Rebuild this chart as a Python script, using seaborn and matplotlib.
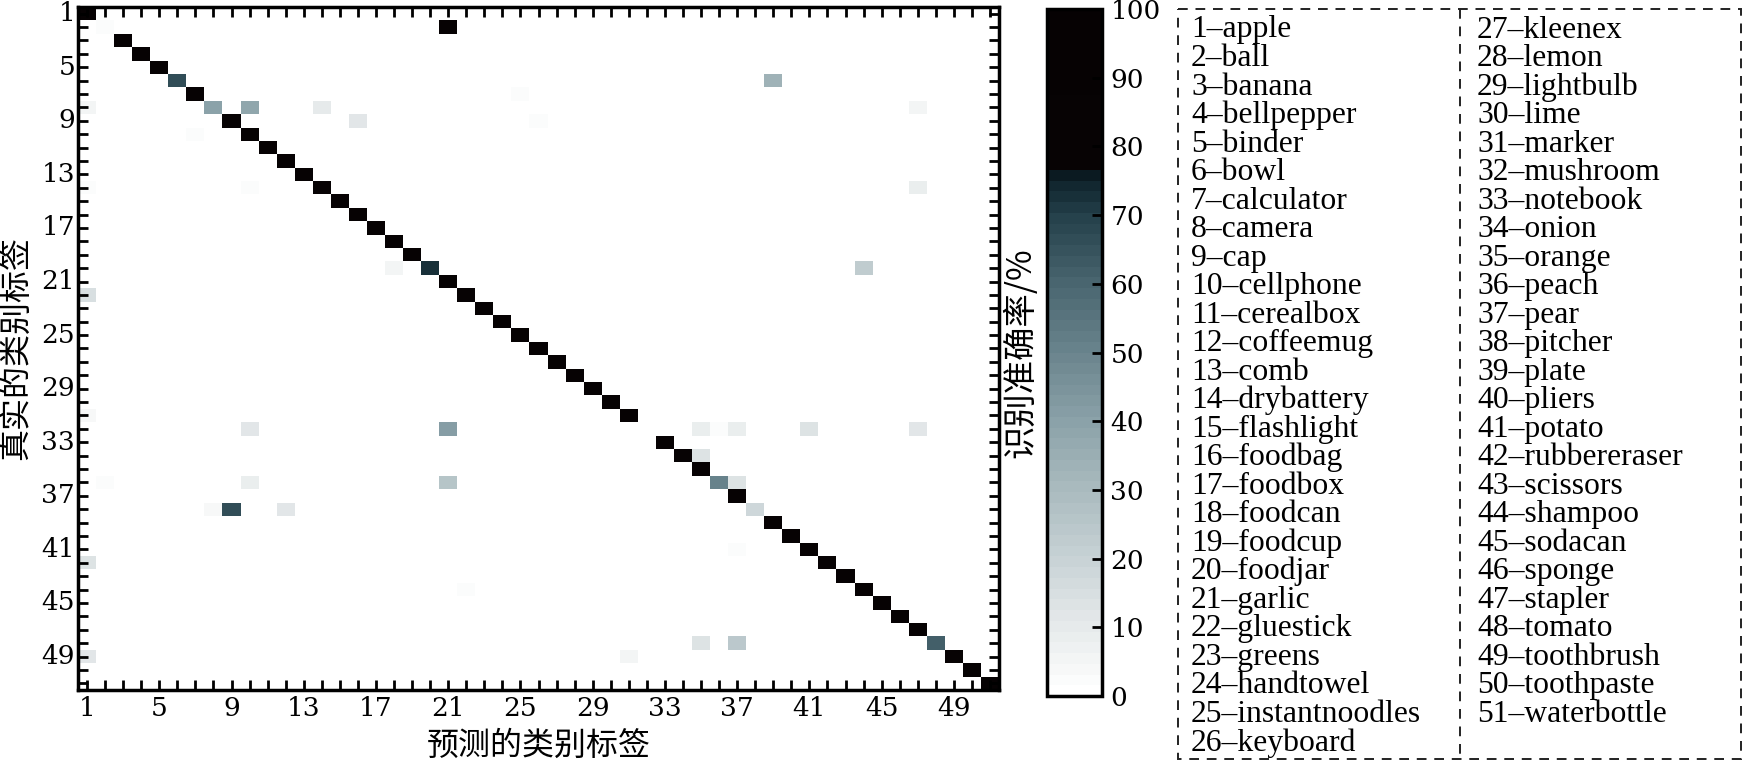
import numpy as np
import seaborn as sns
from matplotlib import pyplot as plt
from matplotlib.colors import LinearSegmentedColormap
from matplotlib.patches import Rectangle

class_names = ["apple", "ball", "banana", "bellpepper", "binder", "bowl", "calculator", "camera",
               "cap", "cellphone", "cerealbox", "coffeemug", "comb", "drybattery", "flashlight",
               "foodbag", "foodbox", "foodcan", "foodcup", "foodjar", "garlic", "gluestick", "greens",
               "handtowel", "instantnoodles", "keyboard", "kleenex", "lemon", "lightbulb", "lime",
               "marker", "mushroom", "notebook", "onion", "orange", "peach", "pear", "pitcher", "plate",
               "pliers", "potato", "rubbereraser", "scissors", "shampoo", "sodacan", "sponge", "stapler",
               "tomato", "toothbrush", "toothpaste", "waterbottle"]

# diagonal accuracy (%) per true class 1..51
diag_vals = [100, 3, 100, 100, 100, 66, 98, 40, 86, 97,
             100, 100, 100, 86, 100, 100, 100, 100, 100, 72,
             100, 85, 100, 100, 100, 100, 100, 100, 100, 100,
             96, 0, 100, 86, 100, 50, 100, 18, 100, 100,
             98, 86, 100, 98, 100, 100, 100, 62, 82, 100, 100]

# off-diagonal confusions: true row, predicted col, percent
off_rows = [2, 6, 7, 8, 8, 8, 8, 9, 9, 10, 14, 14, 14, 20, 20, 22, 31,
            32, 32, 32, 32, 32, 32, 32, 34, 36, 36, 36, 36, 36, 38, 38, 38,
            41, 42, 44, 48, 48, 49, 49]
off_cols = [21, 39, 25, 1, 10, 14, 47, 16, 26, 7, 1, 10, 47, 18, 44, 1, 1,
            10, 21, 35, 36, 37, 41, 47, 35, 2, 10, 21, 37, 41, 8, 9, 12,
            37, 1, 22, 35, 37, 1, 31]
off_vals = [97, 34, 2, 6, 38, 10, 6, 12, 2, 3, 2, 3, 9, 6, 22, 15, 4,
            12, 42, 9, 3, 9, 13, 12, 14, 3, 8, 25, 13, 1, 4, 66, 12,
            2, 14, 2, 14, 24, 12, 6]

cbar_ticks = list(range(0, 101, 10))

n = len(class_names)
conf = np.zeros((n, n))
conf[np.arange(n), np.arange(n)] = diag_vals
for r, c, v in zip(off_rows, off_cols, off_vals):
    conf[r - 1, c - 1] = v

cmap = LinearSegmentedColormap.from_list("acc", [
    (0.00, "#ffffff"), (0.10, "#e5e9ea"), (0.20, "#c6d1d4"), (0.30, "#a9babe"),
    (0.40, "#8aa1a8"), (0.50, "#6a848d"), (0.60, "#4a6670"), (0.70, "#25414b"),
    (0.76, "#0c1f28"), (0.77, "#070304"), (1.00, "#060203")], N=64)

plt.rcParams['font.family'] = ['DejaVu Serif', 'Noto Sans CJK SC']
cjk = ['Noto Sans CJK SC', 'DejaVu Sans']

W, H = 1745, 762
fig = plt.figure(figsize=(W / 100, H / 100), dpi=100)
ax = fig.add_axes([78 / W, 1 - 690 / H, 921 / W, 683 / H])
cax = fig.add_axes([1047 / W, 1 - 696 / H, 55 / W, 687 / H])

sns.heatmap(conf, ax=ax, cbar_ax=cax, cmap=cmap, vmin=0, vmax=100,
            cbar_kws={"ticks": cbar_ticks})

tick_pos = np.arange(n) + 0.5
tick_lab = [str(i + 1) if i % 4 == 0 else "" for i in range(n)]
ax.set_xticks(tick_pos)
ax.set_xticklabels(tick_lab, rotation=0, fontsize=19)
ax.set_yticks(tick_pos)
ax.set_yticklabels(tick_lab, rotation=0, fontsize=19)
ax.tick_params(direction='in', length=7, width=2, top=True, right=True)
ax.tick_params(axis='x', pad=4)
ax.tick_params(axis='y', pad=2)
for s in ax.spines.values():
    s.set_visible(True)
    s.set_linewidth(2.5)
ax.set_xlabel("预测的类别标签", family=cjk, fontsize=23, labelpad=7)
ax.set_ylabel("真实的类别标签", family=cjk, fontsize=23, labelpad=7)

cbar = ax.collections[0].colorbar
cbar.outline.set_linewidth(2.5)
cbar.ax.tick_params(direction='in', length=7, width=2, labelsize=19, pad=6)
cbar.ax.yaxis.set_label_position('left')
cbar.ax.set_ylabel("识别准确率/%", family=cjk, fontsize=24, labelpad=6)

# class legend box
lax = fig.add_axes([1177 / W, 1 - 760 / H, 565 / W, 752 / H])
lax.set_xlim(0, 565)
lax.set_ylim(752, 0)
lax.axis('off')
lax.add_patch(Rectangle((1, 1), 563, 750, fill=False, ls=(0, (5, 4)), lw=1.4, ec='#222222'))
lax.plot([283, 283], [1, 751], ls=(0, (5, 4)), lw=1.4, color='#222222')
for i, name in enumerate(class_names):
    col, row = divmod(i, 26)
    lax.text(14 + col * 286, 29.5 + row * 28.52, f"{i + 1}\u2013{name}", family='Liberation Serif',
             fontsize=22.8, va='baseline', ha='left')

plt.savefig("out.png", dpi=100)
